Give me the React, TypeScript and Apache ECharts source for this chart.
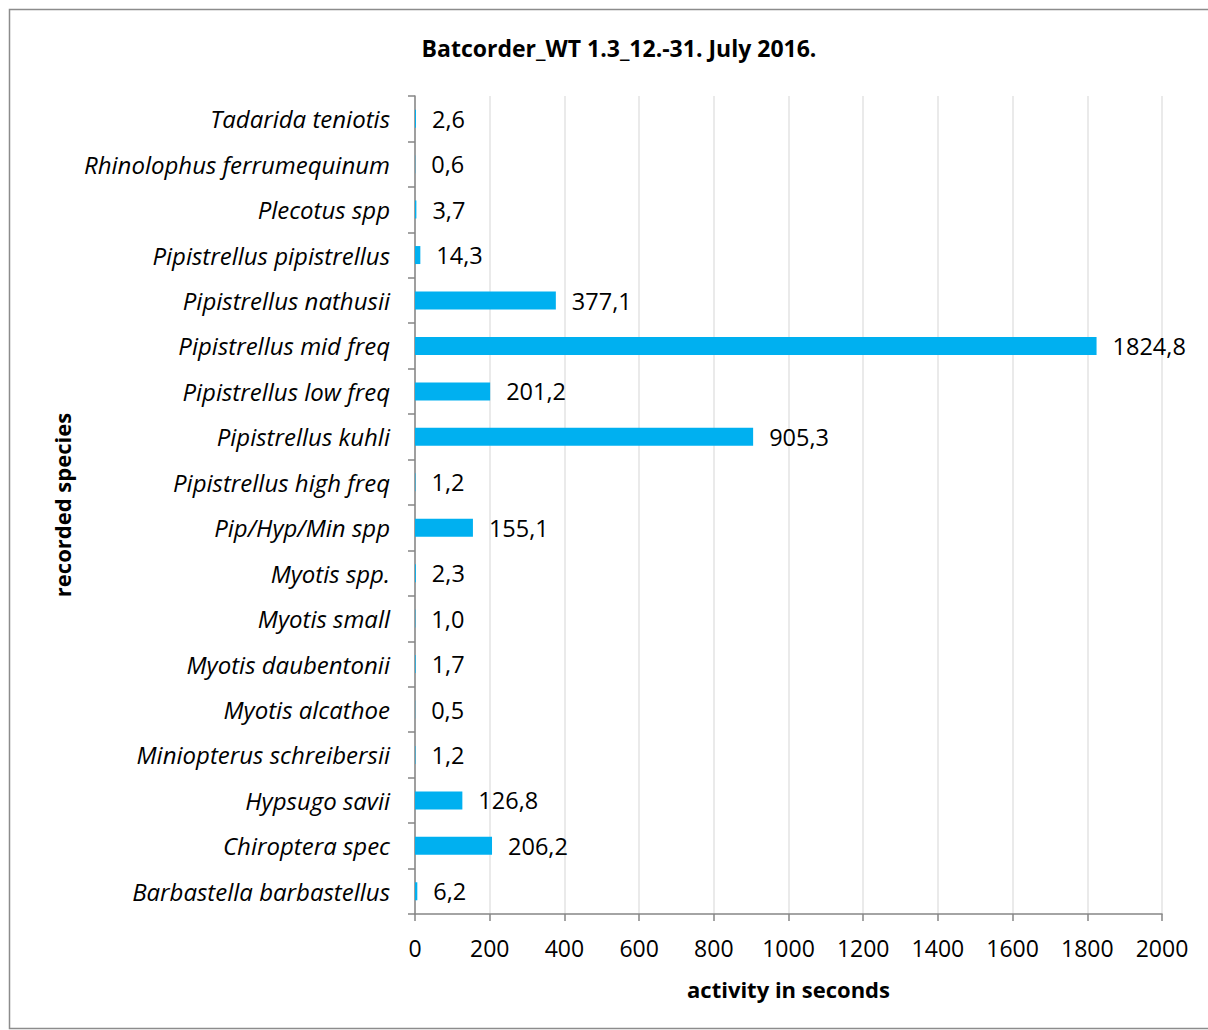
import React, { useEffect, useRef } from "react";
import * as echarts from "echarts";

const species = [
  "Barbastella barbastellus",
  "Chiroptera spec",
  "Hypsugo savii",
  "Miniopterus schreibersii",
  "Myotis alcathoe",
  "Myotis daubentonii",
  "Myotis small",
  "Myotis spp.",
  "Pip/Hyp/Min spp",
  "Pipistrellus high freq",
  "Pipistrellus kuhli",
  "Pipistrellus low freq",
  "Pipistrellus mid freq",
  "Pipistrellus nathusii",
  "Pipistrellus pipistrellus",
  "Plecotus spp",
  "Rhinolophus ferrumequinum",
  "Tadarida teniotis",
];
const activity = [6.2, 206.2, 126.8, 1.2, 0.5, 1.7, 1.0, 2.3, 155.1, 1.2, 905.3, 201.2, 1824.8, 377.1, 14.3, 3.7, 0.6, 2.6];

const FONT = "'Open Sans', sans-serif";

export default function App() {
  const ref = useRef<HTMLDivElement>(null);
  useEffect(() => {
    document.body.style.margin = "0";
    const chart = echarts.init(ref.current!, null, { renderer: "svg" });
    chart.setOption({
      animation: false,
      backgroundColor: "#ffffff",
      textStyle: { fontFamily: FONT },
      title: {
        text: "Batcorder_WT 1.3_12.-31. July 2016.",
        left: 614,
        textAlign: "center",
        top: 31,
        textStyle: { fontFamily: FONT, fontSize: 23, fontWeight: "bold", color: "#000" },
      },
      graphic: [
        {
          type: "rect",
          shape: { x: 9.5, y: 9.5, width: 1210, height: 1019 },
          style: { fill: "none", stroke: "#8c8c8c", lineWidth: 1.5 },
          silent: true,
        },
      ],
      grid: { left: 415, right: 46, top: 96, bottom: 116 },
      xAxis: {
        type: "value",
        min: 0,
        max: 2000,
        interval: 200,
        name: "activity in seconds",
        nameLocation: "middle",
        nameGap: 64,
        nameTextStyle: { fontFamily: FONT, fontSize: 22, fontWeight: "bold", color: "#000" },
        axisLine: { show: true, lineStyle: { color: "#868686", width: 1.5 } },
        axisTick: { show: true, length: 7, lineStyle: { color: "#868686", width: 1.5 } },
        axisLabel: { fontFamily: FONT, fontSize: 23, color: "#000", margin: 22, formatter: (v: number) => String(v) },
        splitLine: { show: true, lineStyle: { color: "#e3e3e3", width: 1.5 } },
      },
      yAxis: {
        type: "category",
        data: species,
        name: "recorded species",
        nameLocation: "middle",
        nameGap: 342,
        nameRotate: 90,
        nameTextStyle: { fontFamily: FONT, fontSize: 22, fontWeight: "bold", color: "#000" },
        axisLine: { show: true, lineStyle: { color: "#868686", width: 1.5 } },
        axisTick: { show: true, length: 7, lineStyle: { color: "#868686", width: 1.5 } },
        axisLabel: { fontFamily: FONT, fontSize: 24, fontStyle: "italic", color: "#000", margin: 25 },
        splitLine: { show: false },
      },
      series: [
        {
          type: "bar",
          data: activity,
          barWidth: 18,
          itemStyle: { color: "#00B0F0" },
          label: {
            show: true,
            position: "right",
            distance: 16,
            fontFamily: FONT,
            fontSize: 23.5,
            color: "#000",
            formatter: (p: any) => Number(p.value).toFixed(1).replace(".", ","),
          },
        },
      ],
    });
    return () => chart.dispose();
  }, []);
  return <div ref={ref} style={{ width: 1208, height: 1030 }} />;
}
